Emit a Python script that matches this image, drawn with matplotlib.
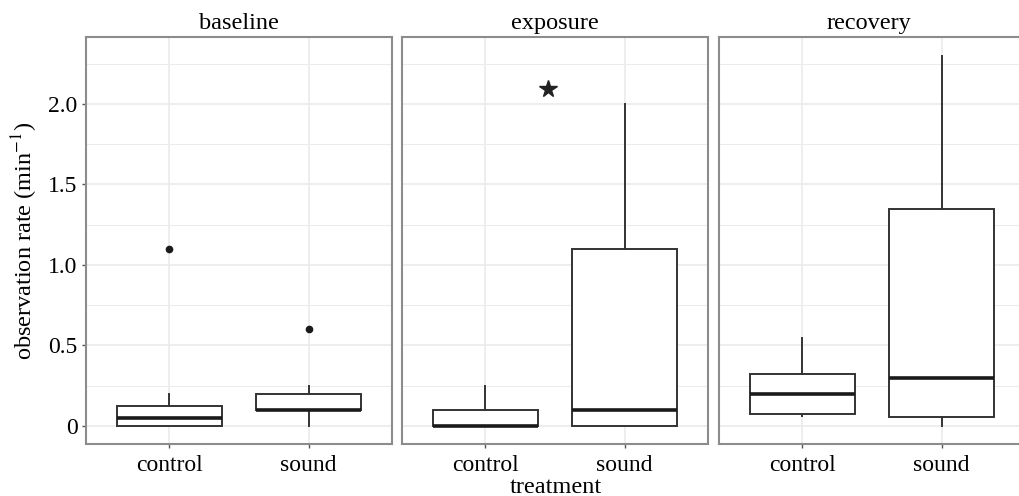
import matplotlib
matplotlib.use("Agg")
import matplotlib.pyplot as plt
from matplotlib.ticker import FixedLocator

# phases (facets) and treatments (x categories)
phases = ["baseline", "exposure", "recovery"]
treatments = ["control", "sound"]

# box summaries, order: baseline c/s, exposure c/s, recovery c/s
whisker_low = [0.0, 0.0, 0.0, 0.0, 0.06, 0.0]
q1 = [0.0, 0.1, 0.0, 0.0, 0.075, 0.055]
median = [0.05, 0.1, 0.0, 0.1, 0.2, 0.3]
q3 = [0.125, 0.2, 0.1, 1.1, 0.325, 1.35]
whisker_high = [0.2, 0.25, 0.25, 2.0, 0.545, 2.3]
outliers = [[1.1], [0.6], [], [], [], []]

# significance star in the exposure panel
star_x = 1.45
star_y = 2.09

y_major = [0, 0.5, 1.0, 1.5, 2.0]
y_labels = ["0", "0.5", "1.0", "1.5", "2.0"]
y_minor = [0.25, 0.75, 1.25, 1.75, 2.25]

plt.rcParams["font.family"] = ["Liberation Serif", "DejaVu Serif"]
plt.rcParams["mathtext.fontset"] = "stix"

W, H = 1019, 496
fig = plt.figure(figsize=(W / 100, H / 100), dpi=100)

# panel boxes in pixels: left, width
panel_px = [(86, 306), (402, 306), (719, 300)]
top_px, bottom_px = 37, 444
unit_px = 306 / 2.2  # pixels per x unit (ggplot discrete range 0.4..2.6)

grid_col = "#ebebeb"
line_col = "#333333"
frame_col = "#8c8c8c"

for i, phase in enumerate(phases):
    left, width = panel_px[i]
    ax = fig.add_axes([left / W, (H - bottom_px) / H, width / W, (bottom_px - top_px) / H])
    ax.set_xlim(0.4, 0.4 + width / unit_px)
    ax.set_ylim(-0.112, 2.416)

    stats = []
    for j, t in enumerate(treatments):
        k = i * 2 + j
        stats.append(dict(label=t, whislo=whisker_low[k], q1=q1[k], med=median[k],
                          q3=q3[k], whishi=whisker_high[k], fliers=outliers[k]))

    ax.bxp(stats, positions=[1, 2], widths=0.75, patch_artist=True, showcaps=False,
           boxprops=dict(facecolor="white", edgecolor=line_col, linewidth=1.4),
           medianprops=dict(color="#1a1a1a", linewidth=2.6),
           whiskerprops=dict(color=line_col, linewidth=1.4),
           flierprops=dict(marker="o", markersize=4.5, markerfacecolor="#1a1a1a",
                           markeredgecolor="#1a1a1a"),
           zorder=3)

    if phase == "exposure":
        ax.plot([star_x], [star_y], marker="*", markersize=13, color="#222222",
                linestyle="none", zorder=4)

    ax.yaxis.set_major_locator(FixedLocator(y_major))
    ax.yaxis.set_minor_locator(FixedLocator(y_minor))
    ax.set_xticks([1, 2])
    ax.set_xticklabels(treatments)
    ax.grid(True, which="major", color=grid_col, linewidth=1.2, zorder=0)
    ax.grid(True, which="minor", axis="y", color=grid_col, linewidth=0.7, zorder=0)
    ax.set_axisbelow(True)

    ax.tick_params(axis="x", length=3, width=1, color="#555555", labelsize=17, pad=5)
    ax.tick_params(axis="y", which="minor", length=0)
    if i == 0:
        ax.set_yticklabels(y_labels)
        ax.tick_params(axis="y", which="major", length=3, width=1, color="#555555",
                       labelsize=17, pad=3)
    else:
        ax.tick_params(axis="y", which="major", length=0, labelleft=False)

    for name, sp in ax.spines.items():
        sp.set_color(frame_col)
        sp.set_linewidth(1.5)
    if i == 2:
        ax.spines["right"].set_visible(False)

    ax.set_title(phase, fontsize=17.5, pad=6)

fig.text(25 / W, 1 - (top_px + bottom_px) / 2 / H, r"observation rate (min$^{-1}$)",
         rotation=90, ha="center", va="center", fontsize=17.5)
fig.text(556 / W, 3 / H, "treatment", ha="center", va="baseline", fontsize=17.5)

fig.savefig("out.png", dpi=100)
